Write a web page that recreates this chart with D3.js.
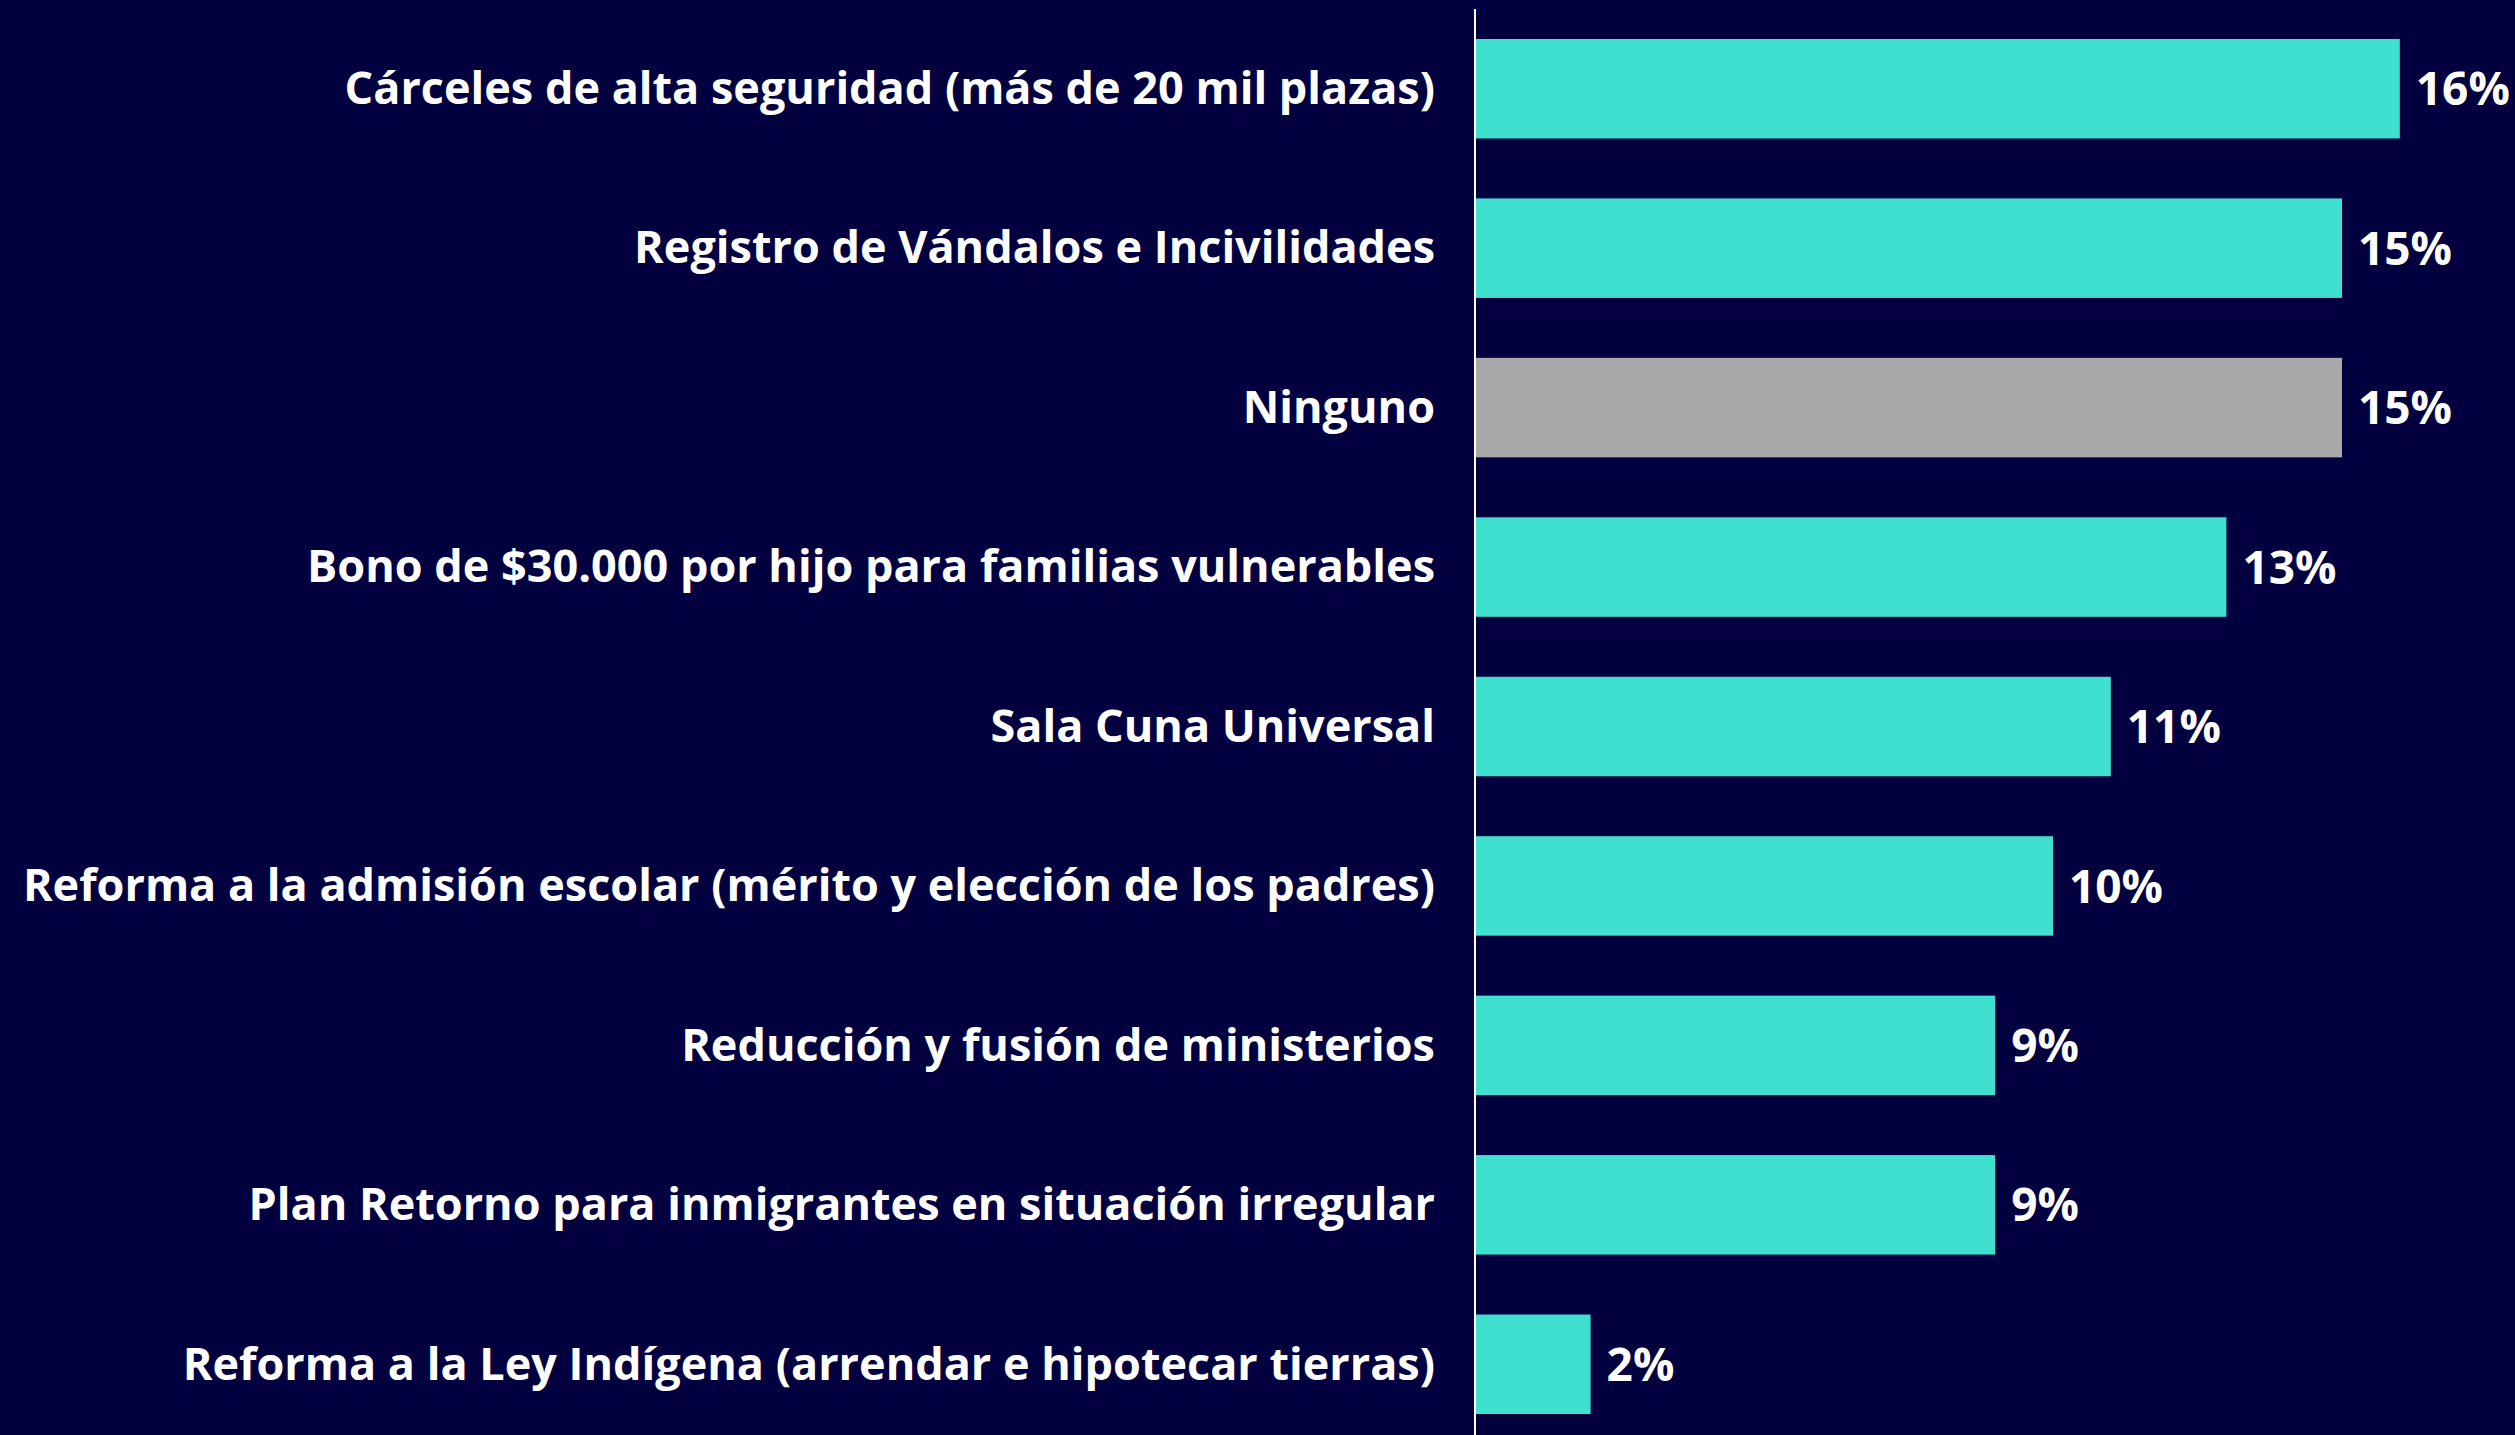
<!DOCTYPE html>
<html>
<head>
<meta charset="utf-8">
<script src="https://cdn.jsdelivr.net/npm/d3@7"></script>
<style>
  html, body { margin: 0; padding: 0; background: #03003f; }
  svg { display: block; }
  text { font-family: "Open Sans", "DejaVu Sans", sans-serif; font-weight: 700; fill: #ffffff; }
</style>
</head>
<body>
<div id="chart"></div>
<script>
const categories = [
  "Cárceles de alta seguridad (más de 20 mil plazas)",
  "Registro de Vándalos e Incivilidades",
  "Ninguno",
  "Bono de $30.000 por hijo para familias vulnerables",
  "Sala Cuna Universal",
  "Reforma a la admisión escolar (mérito y elección de los padres)",
  "Reducción y fusión de ministerios",
  "Plan Retorno para inmigrantes en situación irregular",
  "Reforma a la Ley Indígena (arrendar e hipotecar tierras)"
]
const values = [16, 15, 15, 13, 11, 10, 9, 9, 2]
const valueLabels = ["16%", "15%", "15%", "13%", "11%", "10%", "9%", "9%", "2%"]
const grayCategories = ["Ninguno"]

const width = 2515, height = 1435
const x0 = 1475

const svg = d3.select('#chart').append('svg')
  .attr('width', width)
  .attr('height', height)

svg.append('rect').attr('width', width).attr('height', height).attr('fill', '#03003f')

const x = d3.scaleLinear().domain([0, 16]).range([x0, x0 + 16 * 57.8])
const y = d3.scaleBand().domain(categories).range([9, 1444])
  .paddingInner(0.376).paddingOuter(0.188)

const data = categories.map((c, i) => ({cat: c, value: values[i], label: valueLabels[i]}))

// bars
svg.selectAll('rect.bar')
  .data(data)
  .enter().append('rect')
    .attr('class', 'bar')
    .attr('x', x(0))
    .attr('y', d => y(d.cat))
    .attr('width', d => x(d.value) - x(0))
    .attr('height', y.bandwidth())
    .attr('fill', d => grayCategories.includes(d.cat) ? '#a9a9a9' : '#40e0d0')

// value labels
svg.selectAll('text.val')
  .data(data)
  .enter().append('text')
    .attr('class', 'val')
    .attr('x', d => x(d.value) + 16)
    .attr('y', d => y(d.cat) + y.bandwidth() / 2)
    .attr('dy', '0.36em')
    .attr('font-size', 46)
    .text(d => d.label)

// category labels
svg.selectAll('text.cat')
  .data(data)
  .enter().append('text')
    .attr('class', 'cat')
    .attr('x', x0 - 40)
    .attr('y', d => y(d.cat) + y.bandwidth() / 2)
    .attr('dy', '0.34em')
    .attr('text-anchor', 'end')
    .attr('font-size', 45)
    .text(d => d.cat)

// vertical axis line
svg.append('line')
  .attr('x1', x0).attr('x2', x0)
  .attr('y1', 9).attr('y2', height)
  .attr('stroke', '#ffffff')
  .attr('stroke-width', 2)
</script>
</body>
</html>
